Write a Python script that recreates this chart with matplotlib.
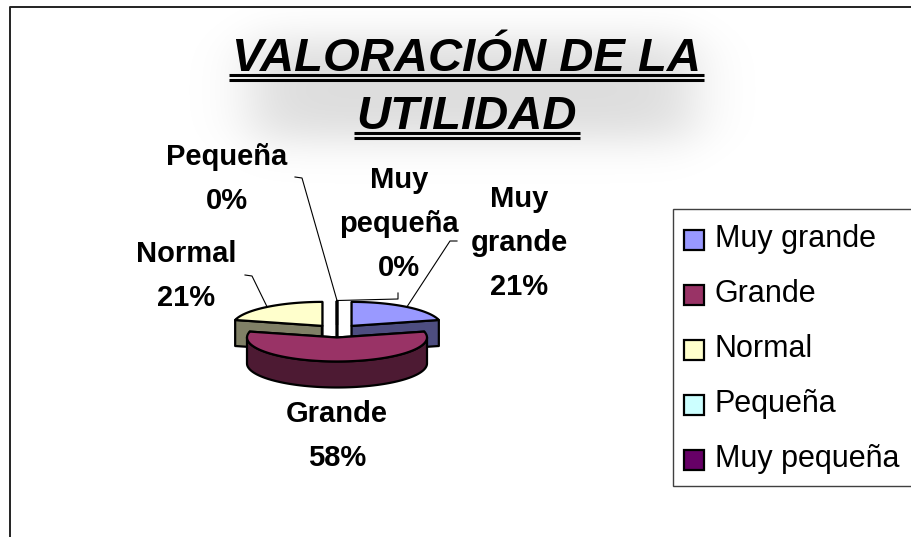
import numpy as np
import matplotlib
matplotlib.use('Agg')
import matplotlib.pyplot as plt
from matplotlib.patches import Polygon, Rectangle

# datos
categorias = ['Muy grande', 'Grande', 'Normal', 'Pequeña', 'Muy pequeña']
valores = [4, 11, 4, 0, 0]
color_sup = ['#9999FF', '#993366', '#FFFFCC', '#CCFFFF', '#660066']
color_lado = ['#4D4D80', '#4D1A33', '#808066', '#668080', '#330033']
etiquetas = [['Muy', 'grande'], ['Grande'], ['Normal'], ['Pequeña'], ['Muy', 'pequeña']]
titulo = ['VALORACIÓN DE LA', 'UTILIDAD']

# posiciones de las etiquetas (centro x, primera linea base) y de las guias
pos_etiq = [(519, 207), (337, 422), (186, 262), (227, 165), (399, 188)]
guias = [[(457, 241), (450, 241)], None, [(245, 275), (252, 276)],
         [(295, 177), (302, 178)], [(398, 293), (398, 299)]]

FAM = 'Liberation Sans'

fig = plt.figure(figsize=(9.12, 5.37), dpi=100)
ax = fig.add_axes([0, 0, 1, 1])

# sombra difusa detras del titulo
gx = np.linspace(150, 790, 320)
gy = np.linspace(0, 190, 120)
X, Y = np.meshgrid(gx, gy)
fx = 0.5 * (np.tanh((X - 250) / 35) - np.tanh((X - 695) / 35))
fy = 0.5 * (np.tanh((Y - 40) / 25) - np.tanh((Y - 140) / 25))
sombra = np.zeros(X.shape + (4,))
sombra[..., 3] = 0.14 * fx * fy
ax.imshow(sombra, extent=(150, 790, 190, 0), zorder=0, interpolation='bilinear')

ax.set_aspect('auto')
ax.set_xlim(0, 912)
ax.set_ylim(537, 0)
ax.axis('off')

# borde del area del grafico
ax.plot([10, 10, 912], [537, 7, 7], color='#222222', lw=1.4)

# tarta 3D
cx, cy = 337, 331
rx, ry = 90, 24
prof = 26
expl = 0.27
lw = 1.6

total = sum(valores)
angulos = np.concatenate([[0], np.cumsum(valores) / total * 360])


def punto(a, ox, oy, r=1.0):
    t = np.radians(a)
    return cx + ox + rx * r * np.sin(t), cy + oy - ry * r * np.cos(t)


desplaz = []
for i in range(len(valores)):
    mid = np.radians((angulos[i] + angulos[i + 1]) / 2)
    desplaz.append((expl * 88 * np.sin(mid), -expl * ry * np.cos(mid)))

orden = sorted(range(len(valores)), key=lambda i: desplaz[i][1])
for i in orden:
    a0, a1 = angulos[i], angulos[i + 1]
    ox, oy = desplaz[i]
    px, py = cx + ox, cy + oy
    # caras radiales
    for a in (a0, a1):
        bx, by = punto(a, ox, oy)
        quad = [(px, py), (bx, by), (bx, by + prof), (px, py + prof)]
        ax.add_patch(Polygon(quad, fc=color_lado[i], ec='black', lw=lw, joinstyle='round', zorder=2))
    # pared exterior visible
    lo, hi = max(a0, 90), min(a1, 270)
    if hi > lo:
        w = np.linspace(lo, hi, 80)
        wx, wy = punto(w, ox, oy)
        pts = np.column_stack([np.r_[wx, wx[::-1]], np.r_[wy, wy[::-1] + prof]])
        ax.add_patch(Polygon(pts, fc=color_lado[i], ec='black', lw=lw, joinstyle='round', zorder=2))
    # cara superior
    arc = np.linspace(a0, a1, 100)
    tx, ty = punto(arc, ox, oy)
    pts = np.column_stack([np.r_[px, tx], np.r_[py, ty]])
    ax.add_patch(Polygon(pts, fc=color_sup[i], ec='black', lw=lw, joinstyle='round', zorder=2))

# etiquetas de datos
for i in range(len(valores)):
    pct = '%d%%' % round(100 * valores[i] / total)
    lineas = etiquetas[i] + [pct]
    x0, y0 = pos_etiq[i]
    for k, s in enumerate(lineas):
        ax.text(x0, y0 + k * 44, s, ha='center', va='baseline', fontsize=21,
                fontweight='bold', family=FAM, zorder=4)
    if guias[i] is not None:
        mid = (angulos[i] + angulos[i + 1]) / 2
        ex, ey = punto(mid, *desplaz[i])
        gxs = [p[0] for p in guias[i]] + [ex]
        gys = [p[1] for p in guias[i]] + [ey]
        ax.plot(gxs, gys, color='black', lw=0.8, zorder=3)

# titulo con doble subrayado
fig.canvas.draw()
rend = fig.canvas.get_renderer()
for txt, yb in zip(titulo, [71, 129]):
    t = ax.text(467, yb, txt, ha='center', va='baseline', fontsize=34,
                fontweight='bold', fontstyle='italic', family=FAM, zorder=4)
    bb = t.get_window_extent(rend)
    xs = ax.transData.inverted().transform([[bb.x0 - 3, 0], [bb.x1 + 3, 0]])[:, 0]
    for dy in (4, 9):
        ax.plot(xs, [yb + dy, yb + dy], color='black', lw=2.2, solid_capstyle='butt', zorder=4)

# leyenda
ax.add_patch(Rectangle((673, 209), 260, 277, fc='white', ec='#404040', lw=1, zorder=3))
for i, cat in enumerate(categorias):
    yc = 240 + i * 55
    ax.add_patch(Rectangle((684, yc - 10), 20, 20, fc=color_sup[i], ec='black', lw=1.6, zorder=4))
    ax.text(715, yc + 7, cat, va='baseline', fontsize=22, family=FAM, zorder=4)

fig.savefig('out.png', dpi=100)
